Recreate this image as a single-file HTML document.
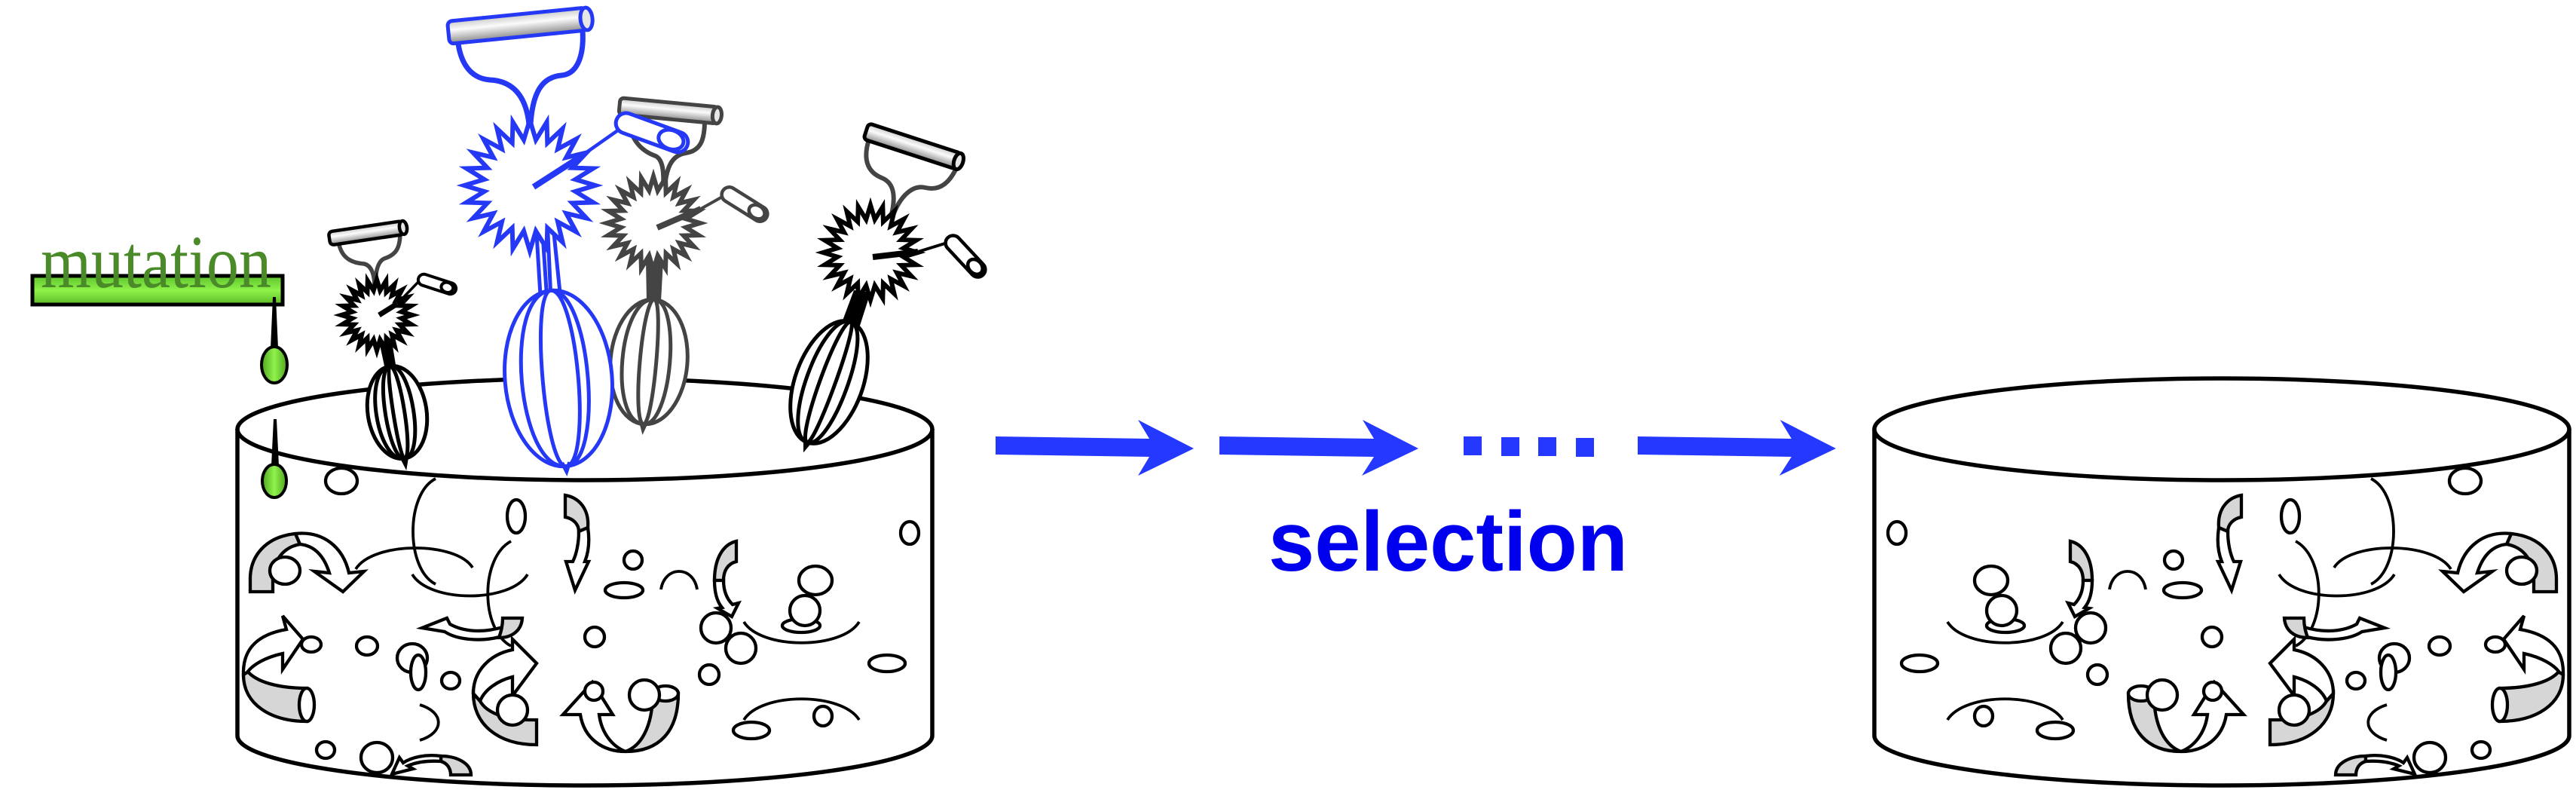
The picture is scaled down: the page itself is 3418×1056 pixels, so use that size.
<!DOCTYPE html>
<html><head><meta charset="utf-8"><style>html,body{margin:0;padding:0;background:#fff;}svg{display:block;}</style></head>
<body>
<svg xmlns="http://www.w3.org/2000/svg" xmlns:xlink="http://www.w3.org/1999/xlink" width="3418" height="1056" viewBox="0 0 3418 1056">
<defs>
 <linearGradient id="rodg" x1="0" y1="0" x2="0" y2="1"><stop offset="0" stop-color="#c8c8c8"/><stop offset="0.4" stop-color="#fbfbfb"/><stop offset="1" stop-color="#8a8a8a"/></linearGradient>
 <linearGradient id="barg" x1="0" y1="0" x2="0" y2="1"><stop offset="0" stop-color="#5ec42c"/><stop offset="0.5" stop-color="#8ef24a"/><stop offset="1" stop-color="#5cbc28"/></linearGradient>
 <linearGradient id="ovalg" x1="0" y1="0" x2="1" y2="0"><stop offset="0" stop-color="#4fa51e"/><stop offset="0.5" stop-color="#90f24c"/><stop offset="1" stop-color="#4fa51e"/></linearGradient>
 <polygon id="star" points="100,0 69.4,9.2 96.6,25.9 64.7,26.8 86.6,50 55.5,42.6 70.7,70.7 42.6,55.5 50,86.6 26.8,64.7 25.9,96.6 9.2,69.4 0,100 -9.2,69.4 -25.9,96.6 -26.8,64.7 -50,86.6 -42.6,55.5 -70.7,70.7 -55.5,42.6 -86.6,50 -64.7,26.8 -96.6,25.9 -69.4,9.2 -100,0 -69.4,-9.2 -96.6,-25.9 -64.7,-26.8 -86.6,-50 -55.5,-42.6 -70.7,-70.7 -42.6,-55.5 -50,-86.6 -26.8,-64.7 -25.9,-96.6 -9.2,-69.4 0,-100 9.2,-69.4 25.9,-96.6 26.8,-64.7 50,-86.6 42.6,-55.5 70.7,-70.7 55.5,-42.6 86.6,-50 64.7,-26.8 96.6,-25.9 69.4,-9.2"/>
</defs>

<!-- Cylinders -->
<g fill="#fff" stroke="#000" stroke-width="5.5">
 <path d="M315,569 L315,976 A461,66 0 0 0 1237,976 L1237,569"/>
 <ellipse cx="776" cy="569.5" rx="461" ry="67.5"/>
 <path d="M2487,569 L2487,976 A461,66 0 0 0 3409,976 L3409,569"/>
 <ellipse cx="2948" cy="569.5" rx="461" ry="67.5"/>
</g>

<!-- Cylinder contents (left) -->
<g id="cont" fill="#fff" stroke="#000" stroke-width="4.3">
 <ellipse cx="453" cy="638" rx="21" ry="17"/>
 <g fill="none" stroke-width="3.8">
  <path d="M578,635 C538,655 538,755 578,775"/>
  <path d="M472,755 C495,718 605,718 627,753"/>
  <path d="M547,762 C570,800 677,800 700,762"/>
  <path d="M678,718 C637,740 637,835 678,857"/>
  <path d="M557,935 C590,945 590,972 557,982"/>
  <path d="M877,782 C882,750 920,750 925,782"/>
  <path d="M987,825 C1010,862 1117,862 1140,825"/>
  <path d="M987,955 C1010,918 1117,918 1140,955"/>
 </g>
 <!-- Arrow A -->
 <path fill="#d6d6d6" d="M332,785 L332,768 C332,738 352,712 392,708 L398,722 C375,726 362,745 362,768 L362,785 Z"/>
 <path d="M392,708 C428,704 455,725 463,760 L483,758 L455,785 L417,758 L437,760 C430,738 418,724 398,722 Z"/>
 <ellipse cx="378" cy="757" rx="20" ry="18"/>
 <!-- Arrow B -->
 <path fill="#d6d6d6" d="M323,895 C323,935 360,957 407,957 L407,913 C370,913 340,905 328,890 Z"/>
 <path d="M323,895 C322,862 340,842 380,835 L375,817 L402,848 L375,888 L375,867 C352,872 335,882 328,892 Z"/>
 <ellipse cx="407" cy="935" rx="10" ry="22"/>
 <ellipse cx="413" cy="855" rx="13" ry="10"/>
 <ellipse cx="487" cy="857" rx="14" ry="12"/>
 <ellipse cx="547" cy="873" rx="20" ry="19"/>
 <ellipse cx="555" cy="892" rx="10" ry="23"/>
 <ellipse cx="598" cy="903" rx="12" ry="11"/>
 <!-- Arrow D -->
 <path d="M560,833 L593,820 L597,828 C615,838 640,840 667,832 L663,845 C635,852 605,848 590,838 Z"/>
 <path fill="#d6d6d6" d="M667,820 L693,820 C692,836 680,846 662,846 C664,840 667,832 667,820 Z"/>
 <!-- Arrow C -->
 <path fill="#d6d6d6" d="M628,920 C628,960 660,988 712,988 L712,955 L700,955 C670,955 645,945 637,930 Z"/>
 <path d="M628,920 C628,890 650,868 680,862 L680,848 L712,880 L680,923 L680,898 C660,903 643,915 637,930 Z"/>
 <ellipse cx="680" cy="942" rx="20" ry="20"/>
 <!-- Arrow E -->
 <path fill="#d6d6d6" d="M598,1028 C598,1018 592,1012 585,1010 L585,1003 C605,1003 625,1012 625,1028 Z"/>
 <path d="M585,1003 C565,1000 545,1005 535,1012 L530,1005 L520,1027 L548,1020 L541,1016 C555,1010 570,1009 585,1010 Z"/>
 <ellipse cx="500" cy="1005" rx="21" ry="20"/>
 <ellipse cx="432" cy="995" rx="12" ry="11"/>
 <ellipse cx="685" cy="685" rx="12" ry="22"/>
 <!-- tall gray arrow 1 -->
 <path fill="#d6d6d6" d="M750,657 C768,660 782,675 780,700 L768,705 C768,695 760,688 750,686 Z"/>
 <path d="M780,700 C783,720 780,735 776,745 L781,745 L763,783 L751,745 L760,745 C765,735 768,720 768,705 Z"/>
 <ellipse cx="840" cy="743" rx="12" ry="12"/>
 <ellipse cx="828" cy="783" rx="25" ry="10"/>
 <!-- gray arrow 2 -->
 <path fill="#d6d6d6" d="M977,718 L977,745 C965,748 960,758 960,770 L948,770 C948,740 960,722 977,718 Z"/>
 <path d="M948,770 C948,790 953,800 958,806 L952,807 L971,818 L980,800 L972,802 C965,795 960,785 960,770 Z"/>
 <ellipse cx="950" cy="833" rx="20" ry="20"/>
 <ellipse cx="983" cy="860" rx="20" ry="20"/>
 <ellipse cx="1082" cy="770" rx="22" ry="19"/>
 <ellipse cx="1063" cy="830" rx="25" ry="9"/>
 <ellipse cx="1068" cy="810" rx="20" ry="20"/>
 <ellipse cx="1207" cy="707" rx="12" ry="15"/>
 <ellipse cx="1177" cy="880" rx="24" ry="11"/>
 <ellipse cx="789" cy="845" rx="13" ry="13"/>
 <ellipse cx="941" cy="895" rx="13" ry="13"/>
 <ellipse cx="1092" cy="950" rx="12" ry="13"/>
 <ellipse cx="997" cy="969" rx="24" ry="11"/>
 <!-- Arrow F -->
 <path fill="#d6d6d6" d="M830,997 C875,997 900,970 900,920 L866,920 C866,965 850,990 830,997 Z"/>
 <path d="M770,948 L747,948 L786,905 L813,948 L795,948 C798,972 812,990 830,997 C800,997 775,980 770,948 Z"/>
 <ellipse cx="883" cy="920" rx="17" ry="10"/>
 <ellipse cx="855" cy="922" rx="20" ry="20"/>
 <ellipse cx="788" cy="917" rx="12" ry="12"/>
</g>

<!-- Right cylinder contents: mirror -->
<use href="#cont" xlink:href="#cont" transform="translate(3724,0) scale(-1,1)"/>

<!-- Mutation -->
<rect x="43" y="366" width="332" height="38" fill="url(#barg)" stroke="#000" stroke-width="5"/>
<text x="54" y="381" font-family="'Liberation Serif', serif" font-size="100" fill="#4a8a28" textLength="306" lengthAdjust="spacingAndGlyphs">mutation</text>
<polygon points="362,394 366,394 369,462 359,462" fill="#000"/>
<ellipse cx="364" cy="484" rx="17" ry="24" fill="url(#ovalg)" stroke="#000" stroke-width="4"/>
<polygon points="363,556 367,556 370,618 360,618" fill="#000"/>
<ellipse cx="364" cy="638" rx="16" ry="22" fill="url(#ovalg)" stroke="#000" stroke-width="4"/>

<!-- Small protein -->
<g fill="none" stroke="#444" stroke-width="5.5">
 <path d="M450,325 C455,345 470,349 483,350 C493,352 497,365 497,380"/>
 <path d="M531,308 C531,330 525,338 510,343 C500,347 498,365 498,380"/>
</g>
<g transform="translate(440,316) rotate(-8.4)" stroke="#000" stroke-width="4.5">
 <rect x="-3" y="-9" width="99" height="18" rx="5" fill="url(#rodg)"/>
 <ellipse cx="96" cy="0" rx="5" ry="9" fill="#e6e6e6"/>
</g>
<polygon points="503,453 520,453 526,490 511,490" fill="#000"/>
<g transform="translate(527,547) rotate(-9)" fill="none" stroke="#000" stroke-width="5">
 <ellipse rx="39" ry="62" fill="#fff"/>
 <path d="M0,-62 C-37,-62 -37,62 0,62"/>
 <path d="M0,-62 C-21,-62 -21,62 0,62"/>
 <path d="M0,-62 C-7,-62 -7,62 0,62"/>
 <path d="M0,-62 C13,-62 13,62 0,62"/>
 <path d="M0,-62 C29,-62 29,62 0,62"/>
 <path d="M-4,58 L0,70 L4,58"/>
</g>
<use href="#star" xlink:href="#star" transform="translate(500,418) scale(0.47)" fill="#fff" stroke="#000" stroke-width="13"/>
<line x1="503" y1="418" x2="527" y2="403" stroke="#000" stroke-width="7"/>
<line x1="527" y1="403" x2="557" y2="372" stroke="#000" stroke-width="3.5"/>
<g transform="translate(580,377) rotate(18)" fill="#fff" stroke="#000" stroke-width="4">
 <rect x="-26" y="-7.5" width="52" height="15" rx="7.5"/>
 <ellipse cx="14" cy="0" rx="8" ry="6.5"/>
</g>

<!-- Gray protein -->
<g fill="none" stroke="#444" stroke-width="6">
 <path d="M832,152 C836,185 850,200 870,207 C880,212 881,230 880,248"/>
 <path d="M935,160 C935,185 930,200 910,203 C890,206 884,225 882,248"/>
</g>
<g transform="translate(825,141) rotate(5.4)" stroke="#444" stroke-width="5">
 <rect x="-3" y="-11" width="130" height="22" rx="5" fill="url(#rodg)"/>
 <ellipse cx="127" cy="0" rx="6" ry="11" fill="#e6e6e6"/>
</g>
<polygon points="857,345 880,345 877,400 858,400" fill="#444"/>
<g transform="translate(861,480) rotate(5)" fill="none" stroke="#444" stroke-width="5">
 <ellipse rx="51" ry="83" fill="#fff"/>
 <path d="M0,-83 C-47,-83 -47,83 0,83"/>
 <path d="M0,-83 C-16,-83 -16,83 0,83"/>
 <path d="M0,-83 C13,-83 13,83 0,83"/>
 <path d="M0,-83 C37,-83 37,83 0,83"/>
 <path d="M-4,79 L0,90 L4,79"/>
</g>
<use href="#star" xlink:href="#star" transform="translate(867,296) scale(0.62)" fill="#fff" stroke="#444" stroke-width="9.7"/>
<line x1="872" y1="302" x2="930" y2="277" stroke="#444" stroke-width="8"/>
<line x1="930" y1="277" x2="962" y2="259" stroke="#444" stroke-width="4"/>
<g transform="translate(988,271) rotate(32)" fill="#fff" stroke="#444" stroke-width="4.5">
 <rect x="-34" y="-10" width="68" height="20" rx="10"/>
 <ellipse cx="19" cy="0" rx="11" ry="8.5"/>
</g>

<!-- Blue protein -->
<g fill="none" stroke="#2438f5" stroke-width="7">
 <path d="M608,58 C612,85 625,104 650,106 C672,107 697,118 702,165"/>
 <path d="M773,40 C775,70 768,98 745,100 C722,102 707,118 704,165"/>
</g>
<g transform="translate(598,43) rotate(-5.7)" stroke="#2438f5" stroke-width="5">
 <rect x="-3" y="-15" width="184" height="30" rx="6" fill="url(#rodg)"/>
 <ellipse cx="181" cy="0" rx="8" ry="15" fill="#e6e6e6"/>
</g>
<g stroke="#2438f5" stroke-width="5">
 <line x1="712" y1="310" x2="717" y2="392"/>
 <line x1="720" y1="310" x2="726" y2="400"/>
 <line x1="727" y1="310" x2="731" y2="398"/>
 <line x1="735" y1="310" x2="743" y2="388"/>
</g>
<g transform="translate(741,502) rotate(-5)" fill="none" stroke="#2438f5" stroke-width="5">
 <ellipse rx="71" ry="117" fill="#fff"/>
 <path d="M0,-117 C-65,-117 -65,117 0,117"/>
 <path d="M0,-117 C-28,-117 -28,117 0,117"/>
 <path d="M0,-117 C35,-117 35,117 0,117"/>
 <path d="M0,-117 C52,-117 52,117 0,117"/>
 <path d="M-5,112 L0,124 L5,112"/>
</g>
<use href="#star" xlink:href="#star" transform="translate(703,246) scale(0.87)" fill="#fff" stroke="#2438f5" stroke-width="6.9"/>
<line x1="708" y1="248" x2="767" y2="210" stroke="#2438f5" stroke-width="8"/>
<line x1="767" y1="210" x2="824" y2="170" stroke="#2438f5" stroke-width="4.5"/>
<g transform="translate(865,176) rotate(20)" fill="#fff" stroke="#2438f5" stroke-width="5">
 <rect x="-50" y="-13.5" width="100" height="27" rx="13.5"/>
 <ellipse cx="27" cy="0" rx="17" ry="12.5"/>
</g>

<!-- Right black protein -->
<g fill="none" stroke="#444" stroke-width="6">
 <path d="M1153,185 C1145,210 1150,228 1170,236 C1185,242 1190,258 1182,288"/>
 <path d="M1268,225 C1258,245 1245,253 1228,249 C1212,245 1195,258 1184,288"/>
</g>
<g transform="translate(1152,175) rotate(18)" stroke="#000" stroke-width="5">
 <rect x="-3" y="-11" width="129" height="22" rx="5" fill="url(#rodg)"/>
 <ellipse cx="126" cy="0" rx="6" ry="11" fill="#e6e6e6"/>
</g>
<polygon points="1133,385 1155,388 1140,435 1117,428" fill="#000"/>
<g transform="translate(1100,507) rotate(20)" fill="none" stroke="#000" stroke-width="5">
 <ellipse rx="45" ry="85" fill="#fff"/>
 <path d="M0,-85 C-40,-85 -40,85 0,85"/>
 <path d="M0,-85 C-16,-85 -16,85 0,85"/>
 <path d="M0,-85 C11,-85 11,85 0,85"/>
 <path d="M0,-85 C33,-85 33,85 0,85"/>
 <path d="M-4,81 L0,92 L4,81"/>
</g>
<use href="#star" xlink:href="#star" transform="translate(1155,335) scale(0.63)" fill="#fff" stroke="#000" stroke-width="9.5"/>
<line x1="1158" y1="341" x2="1218" y2="334" stroke="#000" stroke-width="8"/>
<line x1="1218" y1="334" x2="1257" y2="322" stroke="#000" stroke-width="4"/>
<g transform="translate(1281,340) rotate(47)" fill="#fff" stroke="#000" stroke-width="4.5">
 <rect x="-34" y="-10" width="68" height="20" rx="10"/>
 <ellipse cx="19" cy="0" rx="11" ry="8.5"/>
</g>

<!-- Selection arrows -->
<g fill="#2438ff">
 <polygon points="1321,579 1525,582 1510,557 1584,595 1510,631 1525,606 1321,603"/>
 <polygon points="1618,579 1823,582 1808,557 1882,595 1807,631 1823,606 1618,603"/>
 <polygon points="2173,579 2377,582 2362,557 2436,595 2361,631 2377,606 2173,603"/>
 <rect x="1942" y="579" width="24" height="25"/>
 <rect x="1992" y="580" width="24" height="25"/>
 <rect x="2041" y="580" width="24" height="25"/>
 <rect x="2091" y="581" width="24" height="25"/>
</g>
<text x="1683" y="757" font-family="'Liberation Sans', Arial, sans-serif" font-weight="bold" font-size="112" fill="#0000ee" textLength="477" lengthAdjust="spacingAndGlyphs">selection</text>
</svg>
</body></html>
